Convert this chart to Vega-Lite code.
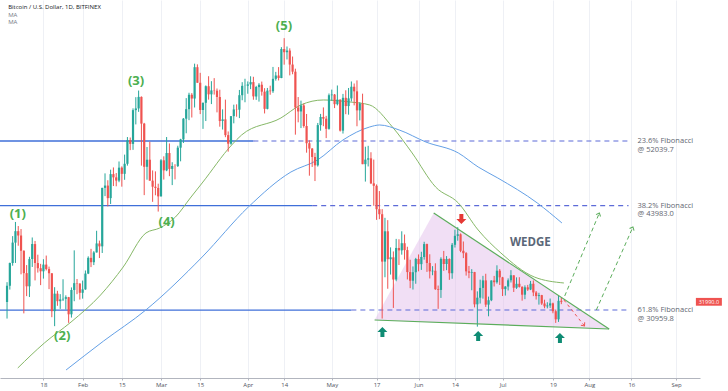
{
  "$schema": "https://vega.github.io/schema/vega-lite/v6.json",
  "width": 700,
  "height": 378,
  "autosize": {"type": "none"},
  "padding": {"left": 0, "top": 0, "right": 28, "bottom": 13},
  "background": "#ffffff",
  "config": {"view": {"stroke": null}, "font": "Open Sans"},
  "datasets": {
    "candles": [
      {"d":"2021-01-05","o":31971,"h":34437,"l":29900,"c":33992},
      {"d":"2021-01-06","o":33992,"h":36879,"l":33514,"c":36824},
      {"d":"2021-01-07","o":36824,"h":40180,"l":36491,"c":39371},
      {"d":"2021-01-08","o":39371,"h":41946,"l":36838,"c":40797},
      {"d":"2021-01-09","o":40797,"h":41436,"l":38980,"c":40254},
      {"d":"2021-01-10","o":40254,"h":41063,"l":35418,"c":38356},
      {"d":"2021-01-11","o":38356,"h":38400,"l":30549,"c":35566},
      {"d":"2021-01-12","o":35566,"h":36568,"l":32697,"c":33922},
      {"d":"2021-01-13","o":33922,"h":37599,"l":32584,"c":37316},
      {"d":"2021-01-14","o":37316,"h":40011,"l":36335,"c":39187},
      {"d":"2021-01-15","o":39187,"h":39577,"l":34659,"c":36825},
      {"d":"2021-01-16","o":36825,"h":37864,"l":35633,"c":36178},
      {"d":"2021-01-17","o":36178,"h":36722,"l":34069,"c":35792},
      {"d":"2021-01-18","o":35792,"h":37299,"l":34883,"c":36630},
      {"d":"2021-01-19","o":36630,"h":37755,"l":35900,"c":36069},
      {"d":"2021-01-20","o":36069,"h":36378,"l":33570,"c":35547},
      {"d":"2021-01-21","o":35547,"h":35553,"l":30071,"c":30825},
      {"d":"2021-01-22","o":30825,"h":33811,"l":28953,"c":33005},
      {"d":"2021-01-23","o":33005,"h":33360,"l":31493,"c":32067},
      {"d":"2021-01-24","o":32067,"h":32944,"l":31106,"c":32289},
      {"d":"2021-01-25","o":32289,"h":34802,"l":32087,"c":32366},
      {"d":"2021-01-26","o":32366,"h":32794,"l":31030,"c":32569},
      {"d":"2021-01-27","o":32569,"h":32600,"l":29367,"c":30432},
      {"d":"2021-01-28","o":30432,"h":33783,"l":30023,"c":33466},
      {"d":"2021-01-29","o":33466,"h":38406,"l":32064,"c":34317},
      {"d":"2021-01-30","o":34317,"h":34834,"l":32940,"c":34270},
      {"d":"2021-01-31","o":34270,"h":34288,"l":32270,"c":33114},
      {"d":"2021-02-01","o":33114,"h":34638,"l":32384,"c":33538},
      {"d":"2021-02-02","o":33538,"h":35896,"l":33489,"c":35510},
      {"d":"2021-02-03","o":35510,"h":37660,"l":35443,"c":37473},
      {"d":"2021-02-04","o":37473,"h":38592,"l":36317,"c":36926},
      {"d":"2021-02-05","o":36926,"h":38310,"l":36570,"c":38144},
      {"d":"2021-02-06","o":38144,"h":40846,"l":38138,"c":39266},
      {"d":"2021-02-07","o":39266,"h":39621,"l":37446,"c":38903},
      {"d":"2021-02-08","o":38903,"h":46203,"l":38076,"c":46196},
      {"d":"2021-02-09","o":46196,"h":48003,"l":45166,"c":46481},
      {"d":"2021-02-10","o":46481,"h":47145,"l":43881,"c":44918},
      {"d":"2021-02-11","o":44918,"h":48463,"l":44187,"c":47909},
      {"d":"2021-02-12","o":47909,"h":48745,"l":46425,"c":47504},
      {"d":"2021-02-13","o":47504,"h":48047,"l":46392,"c":47105},
      {"d":"2021-02-14","o":47105,"h":49487,"l":46900,"c":48717},
      {"d":"2021-02-15","o":48717,"h":48875,"l":46347,"c":47945},
      {"d":"2021-02-16","o":47945,"h":50341,"l":47201,"c":49199},
      {"d":"2021-02-17","o":49199,"h":52533,"l":48968,"c":52149},
      {"d":"2021-02-18","o":52149,"h":52474,"l":50901,"c":51679},
      {"d":"2021-02-19","o":51679,"h":56113,"l":50937,"c":55888},
      {"d":"2021-02-20","o":55888,"h":57505,"l":54108,"c":56099},
      {"d":"2021-02-21","o":56099,"h":58330,"l":55672,"c":57539},
      {"d":"2021-02-22","o":57539,"h":57600,"l":48967,"c":54207},
      {"d":"2021-02-23","o":54207,"h":54300,"l":45290,"c":48824},
      {"d":"2021-02-24","o":48824,"h":51290,"l":47213,"c":49705},
      {"d":"2021-02-25","o":49705,"h":51948,"l":47093,"c":47093},
      {"d":"2021-02-26","o":47093,"h":48370,"l":44454,"c":46339},
      {"d":"2021-02-27","o":46339,"h":48253,"l":45269,"c":46188},
      {"d":"2021-02-28","o":46188,"h":46716,"l":43241,"c":45137},
      {"d":"2021-03-01","o":45137,"h":49784,"l":45115,"c":49631},
      {"d":"2021-03-02","o":49631,"h":50127,"l":47228,"c":48378},
      {"d":"2021-03-03","o":48378,"h":52535,"l":48274,"c":50538},
      {"d":"2021-03-04","o":50538,"h":51735,"l":47656,"c":48561},
      {"d":"2021-03-05","o":48561,"h":49394,"l":46542,"c":48927},
      {"d":"2021-03-06","o":48927,"h":49147,"l":47257,"c":48912},
      {"d":"2021-03-07","o":48912,"h":51450,"l":48800,"c":51206},
      {"d":"2021-03-08","o":51206,"h":52314,"l":49506,"c":52246},
      {"d":"2021-03-09","o":52246,"h":54900,"l":51789,"c":54824},
      {"d":"2021-03-10","o":54824,"h":57387,"l":53005,"c":56008},
      {"d":"2021-03-11","o":56008,"h":58055,"l":54639,"c":57805},
      {"d":"2021-03-12","o":57805,"h":58011,"l":54968,"c":57332},
      {"d":"2021-03-13","o":57332,"h":61683,"l":56217,"c":61243},
      {"d":"2021-03-14","o":61243,"h":61597,"l":59302,"c":59302},
      {"d":"2021-03-15","o":59302,"h":60540,"l":55394,"c":55907},
      {"d":"2021-03-16","o":55907,"h":56833,"l":53555,"c":56804},
      {"d":"2021-03-17","o":56804,"h":58970,"l":54528,"c":58870},
      {"d":"2021-03-18","o":58870,"h":60116,"l":57197,"c":57858},
      {"d":"2021-03-19","o":57858,"h":59498,"l":56643,"c":58346},
      {"d":"2021-03-20","o":58346,"h":59878,"l":57824,"c":58313},
      {"d":"2021-03-21","o":58313,"h":58582,"l":55610,"c":57523},
      {"d":"2021-03-22","o":57523,"h":58431,"l":53824,"c":54529},
      {"d":"2021-03-23","o":54529,"h":55985,"l":53471,"c":54738},
      {"d":"2021-03-24","o":54738,"h":57200,"l":52515,"c":52774},
      {"d":"2021-03-25","o":52774,"h":53230,"l":50710,"c":51704},
      {"d":"2021-03-26","o":51704,"h":55137,"l":51579,"c":55137},
      {"d":"2021-03-27","o":55137,"h":56568,"l":54242,"c":55974},
      {"d":"2021-03-28","o":55974,"h":56610,"l":55071,"c":55947},
      {"d":"2021-03-29","o":55947,"h":58405,"l":54895,"c":57750},
      {"d":"2021-03-30","o":57750,"h":59374,"l":57124,"c":58918},
      {"d":"2021-03-31","o":58918,"h":59800,"l":56870,"c":58930},
      {"d":"2021-04-01","o":58930,"h":59469,"l":57932,"c":59095},
      {"d":"2021-04-02","o":59095,"h":60110,"l":58506,"c":59384},
      {"d":"2021-04-03","o":59384,"h":60045,"l":57183,"c":57603},
      {"d":"2021-04-04","o":57603,"h":58913,"l":57168,"c":58758},
      {"d":"2021-04-05","o":58758,"h":59253,"l":56950,"c":59057},
      {"d":"2021-04-06","o":59057,"h":59449,"l":57696,"c":58192},
      {"d":"2021-04-07","o":58192,"h":58627,"l":55473,"c":56048},
      {"d":"2021-04-08","o":56048,"h":58655,"l":55982,"c":58323},
      {"d":"2021-04-09","o":58323,"h":58937,"l":57807,"c":58245},
      {"d":"2021-04-10","o":58245,"h":61276,"l":58038,"c":59793},
      {"d":"2021-04-11","o":59793,"h":60659,"l":59567,"c":60204},
      {"d":"2021-04-12","o":60204,"h":61253,"l":59589,"c":59893},
      {"d":"2021-04-13","o":59893,"h":63742,"l":59869,"c":63503},
      {"d":"2021-04-14","o":63503,"h":64863,"l":61555,"c":63109},
      {"d":"2021-04-15","o":63109,"h":63821,"l":62208,"c":63314},
      {"d":"2021-04-16","o":63314,"h":63594,"l":60222,"c":61572},
      {"d":"2021-04-17","o":61572,"h":62572,"l":60361,"c":60683},
      {"d":"2021-04-18","o":60683,"h":61057,"l":52829,"c":56216},
      {"d":"2021-04-19","o":56216,"h":57520,"l":54368,"c":55724},
      {"d":"2021-04-20","o":55724,"h":57073,"l":53649,"c":56474},
      {"d":"2021-04-21","o":56474,"h":56709,"l":53695,"c":53906},
      {"d":"2021-04-22","o":53906,"h":55410,"l":50583,"c":51762},
      {"d":"2021-04-23","o":51762,"h":52130,"l":47714,"c":51093},
      {"d":"2021-04-24","o":51093,"h":51166,"l":48806,"c":50050},
      {"d":"2021-04-25","o":50050,"h":50563,"l":47045,"c":49004},
      {"d":"2021-04-26","o":49004,"h":54288,"l":48852,"c":54021},
      {"d":"2021-04-27","o":54021,"h":55416,"l":53320,"c":55033},
      {"d":"2021-04-28","o":55033,"h":56227,"l":53887,"c":54824},
      {"d":"2021-04-29","o":54824,"h":55173,"l":52400,"c":53555},
      {"d":"2021-04-30","o":53555,"h":57963,"l":53448,"c":57750},
      {"d":"2021-05-01","o":57750,"h":58448,"l":57052,"c":57828},
      {"d":"2021-05-02","o":57828,"h":57900,"l":56142,"c":56631},
      {"d":"2021-05-03","o":56631,"h":58963,"l":56478,"c":57200},
      {"d":"2021-05-04","o":57200,"h":57227,"l":53221,"c":53333},
      {"d":"2021-05-05","o":53333,"h":57911,"l":52969,"c":57424},
      {"d":"2021-05-06","o":57424,"h":58363,"l":55382,"c":56396},
      {"d":"2021-05-07","o":56396,"h":58650,"l":55321,"c":57356},
      {"d":"2021-05-08","o":57356,"h":59464,"l":56975,"c":58803},
      {"d":"2021-05-09","o":58803,"h":59210,"l":56482,"c":58232},
      {"d":"2021-05-10","o":58232,"h":59595,"l":53878,"c":55859},
      {"d":"2021-05-11","o":55859,"h":56872,"l":54608,"c":56704},
      {"d":"2021-05-12","o":56704,"h":57939,"l":49150,"c":49150},
      {"d":"2021-05-13","o":49150,"h":51330,"l":46980,"c":49716},
      {"d":"2021-05-14","o":49716,"h":51439,"l":48868,"c":49880},
      {"d":"2021-05-15","o":49880,"h":50639,"l":46665,"c":46760},
      {"d":"2021-05-16","o":46760,"h":49720,"l":43963,"c":46456},
      {"d":"2021-05-17","o":46456,"h":46624,"l":42207,"c":43537},
      {"d":"2021-05-18","o":43537,"h":45799,"l":42293,"c":42909},
      {"d":"2021-05-19","o":42909,"h":43547,"l":29900,"c":37002},
      {"d":"2021-05-20","o":37002,"h":42462,"l":35050,"c":40782},
      {"d":"2021-05-21","o":40782,"h":42172,"l":33616,"c":37304},
      {"d":"2021-05-22","o":37304,"h":38776,"l":35383,"c":37536},
      {"d":"2021-05-23","o":37536,"h":38271,"l":31227,"c":34770},
      {"d":"2021-05-24","o":34770,"h":39835,"l":34551,"c":38705},
      {"d":"2021-05-25","o":38705,"h":39791,"l":36581,"c":38402},
      {"d":"2021-05-26","o":38402,"h":40782,"l":37868,"c":39294},
      {"d":"2021-05-27","o":39294,"h":40379,"l":37247,"c":38436},
      {"d":"2021-05-28","o":38436,"h":38856,"l":34779,"c":35697},
      {"d":"2021-05-29","o":35697,"h":37234,"l":33693,"c":34616},
      {"d":"2021-05-30","o":34616,"h":36400,"l":33520,"c":35678},
      {"d":"2021-05-31","o":35678,"h":37468,"l":34241,"c":37333},
      {"d":"2021-06-01","o":37333,"h":37897,"l":35787,"c":36685},
      {"d":"2021-06-02","o":36685,"h":38231,"l":35966,"c":37575},
      {"d":"2021-06-03","o":37575,"h":39476,"l":37243,"c":39188},
      {"d":"2021-06-04","o":39188,"h":39242,"l":35717,"c":36825},
      {"d":"2021-06-05","o":36825,"h":37917,"l":34900,"c":35791},
      {"d":"2021-06-06","o":35791,"h":36436,"l":35304,"c":35862},
      {"d":"2021-06-07","o":35862,"h":36790,"l":33480,"c":33560},
      {"d":"2021-06-08","o":33560,"h":34017,"l":31115,"c":33472},
      {"d":"2021-06-09","o":33472,"h":37537,"l":32475,"c":37346},
      {"d":"2021-06-10","o":37346,"h":38334,"l":35847,"c":36702},
      {"d":"2021-06-11","o":36702,"h":37690,"l":35937,"c":37334},
      {"d":"2021-06-12","o":37334,"h":37405,"l":34728,"c":35552},
      {"d":"2021-06-13","o":35552,"h":39322,"l":34864,"c":39097},
      {"d":"2021-06-14","o":39097,"h":40978,"l":38757,"c":40218},
      {"d":"2021-06-15","o":40218,"h":41295,"l":39609,"c":40406},
      {"d":"2021-06-16","o":40406,"h":40516,"l":38176,"c":38347},
      {"d":"2021-06-17","o":38347,"h":39513,"l":37439,"c":38053},
      {"d":"2021-06-18","o":38053,"h":38187,"l":35255,"c":35787},
      {"d":"2021-06-19","o":35787,"h":36457,"l":34933,"c":35615},
      {"d":"2021-06-20","o":35615,"h":36059,"l":33432,"c":35698},
      {"d":"2021-06-21","o":35698,"h":35721,"l":31295,"c":31676},
      {"d":"2021-06-22","o":31676,"h":33292,"l":28893,"c":32505},
      {"d":"2021-06-23","o":32505,"h":34753,"l":31772,"c":33723},
      {"d":"2021-06-24","o":33723,"h":35228,"l":32385,"c":34662},
      {"d":"2021-06-25","o":34662,"h":35487,"l":31350,"c":31637},
      {"d":"2021-06-26","o":31637,"h":32637,"l":30184,"c":32186},
      {"d":"2021-06-27","o":32186,"h":34656,"l":32071,"c":34649},
      {"d":"2021-06-28","o":34649,"h":35219,"l":33902,"c":34434},
      {"d":"2021-06-29","o":34434,"h":36542,"l":34252,"c":35867},
      {"d":"2021-06-30","o":35867,"h":36074,"l":34086,"c":35040},
      {"d":"2021-07-01","o":35040,"h":35100,"l":32712,"c":33572},
      {"d":"2021-07-02","o":33572,"h":33939,"l":32770,"c":33897},
      {"d":"2021-07-03","o":33897,"h":34909,"l":33402,"c":34668},
      {"d":"2021-07-04","o":34668,"h":35937,"l":34396,"c":35287},
      {"d":"2021-07-05","o":35287,"h":35300,"l":33213,"c":33746},
      {"d":"2021-07-06","o":33746,"h":35038,"l":33599,"c":34235},
      {"d":"2021-07-07","o":34235,"h":35056,"l":33770,"c":33855},
      {"d":"2021-07-08","o":33855,"h":33929,"l":32133,"c":32877},
      {"d":"2021-07-09","o":32877,"h":34042,"l":32318,"c":33798},
      {"d":"2021-07-10","o":33798,"h":34101,"l":33347,"c":33520},
      {"d":"2021-07-11","o":33520,"h":34592,"l":33450,"c":34240},
      {"d":"2021-07-12","o":34240,"h":34654,"l":32697,"c":33155},
      {"d":"2021-07-13","o":33155,"h":33339,"l":32270,"c":32702},
      {"d":"2021-07-14","o":32702,"h":33115,"l":31639,"c":32822},
      {"d":"2021-07-15","o":32822,"h":32855,"l":31600,"c":31780},
      {"d":"2021-07-16","o":31780,"h":32249,"l":31179,"c":31421},
      {"d":"2021-07-17","o":31421,"h":31936,"l":31176,"c":31533},
      {"d":"2021-07-18","o":31533,"h":32398,"l":31226,"c":31796},
      {"d":"2021-07-19","o":31796,"h":31885,"l":30563,"c":30817},
      {"d":"2021-07-20","o":30817,"h":31032,"l":29360,"c":29807},
      {"d":"2021-07-21","o":29807,"h":32819,"l":29482,"c":32110},
      {"d":"2021-07-22","o":32110,"h":32500,"l":31700,"c":31990}
    ],
    "ma": [
      {"s":"ma50","d":"2021-01-08T20:00:00Z","p":23738},
      {"s":"ma50","d":"2021-01-18T08:00:00Z","p":26855},
      {"s":"ma50","d":"2021-01-27T21:00:00Z","p":29474},
      {"s":"ma50","d":"2021-02-07T10:00:00Z","p":32840},
      {"s":"ma50","d":"2021-02-15T12:00:00Z","p":36332},
      {"s":"ma50","d":"2021-02-23T15:00:00Z","p":40571},
      {"s":"ma50","d":"2021-02-28T13:00:00Z","p":41194},
      {"s":"ma50","d":"2021-03-06T04:00:00Z","p":42566},
      {"s":"ma50","d":"2021-03-11T11:00:00Z","p":44935},
      {"s":"ma50","d":"2021-03-15T17:00:00Z","p":46806},
      {"s":"ma50","d":"2021-03-26T06:00:00Z","p":51544},
      {"s":"ma50","d":"2021-03-29T19:00:00Z","p":52791},
      {"s":"ma50","d":"2021-04-12T20:00:00Z","p":54910},
      {"s":"ma50","d":"2021-04-19T22:00:00Z","p":56531},
      {"s":"ma50","d":"2021-04-28T00:00:00Z","p":57155},
      {"s":"ma50","d":"2021-05-07T12:00:00Z","p":56905},
      {"s":"ma50","d":"2021-05-14T13:00:00Z","p":56531},
      {"s":"ma50","d":"2021-05-22T16:00:00Z","p":53788},
      {"s":"ma50","d":"2021-05-29T17:00:00Z","p":50546},
      {"s":"ma50","d":"2021-06-07T02:00:00Z","p":46307},
      {"s":"ma50","d":"2021-06-15T05:00:00Z","p":44312},
      {"s":"ma50","d":"2021-06-22T07:00:00Z","p":40945},
      {"s":"ma50","d":"2021-06-30T10:00:00Z","p":38077},
      {"s":"ma50","d":"2021-07-12T08:00:00Z","p":35085},
      {"s":"ma50","d":"2021-07-22T22:00:00Z","p":34336},
      {"s":"ma100","d":"2021-01-26T02:00:00Z","p":23488},
      {"s":"ma100","d":"2021-02-08T12:00:00Z","p":27104},
      {"s":"ma100","d":"2021-02-23T14:00:00Z","p":30970},
      {"s":"ma100","d":"2021-03-15T17:00:00Z","p":37578},
      {"s":"ma100","d":"2021-04-01T05:00:00Z","p":43813},
      {"s":"ma100","d":"2021-04-16T10:00:00Z","p":48177},
      {"s":"ma100","d":"2021-04-25T22:00:00Z","p":49673},
      {"s":"ma100","d":"2021-05-05T00:00:00Z","p":52167},
      {"s":"ma100","d":"2021-05-14T13:00:00Z","p":53788},
      {"s":"ma100","d":"2021-05-18T02:00:00Z","p":54038},
      {"s":"ma100","d":"2021-05-25T02:00:00Z","p":53414},
      {"s":"ma100","d":"2021-06-03T14:00:00Z","p":51918},
      {"s":"ma100","d":"2021-06-15T05:00:00Z","p":50546},
      {"s":"ma100","d":"2021-06-22T07:00:00Z","p":48801},
      {"s":"ma100","d":"2021-06-29T07:00:00Z","p":47429},
      {"s":"ma100","d":"2021-07-13T10:00:00Z","p":44312},
      {"s":"ma100","d":"2021-07-22T05:00:00Z","p":41818}
    ],
    "wedgeArea": [
      {"d":"2021-05-16T07:00:00Z","p":29723,"p2":29723},
      {"d":"2021-06-06T10:00:00Z","p":43065,"p2":29440},
      {"d":"2021-08-08T02:00:00Z","p":28601,"p2":28601}
    ],
    "wedgeLines": [
      {"g":"lower","d":"2021-05-16T07:00:00Z","p":29723},
      {"g":"lower","d":"2021-08-08T02:00:00Z","p":28601},
      {"g":"upper","d":"2021-06-06T10:00:00Z","p":43065},
      {"g":"upper","d":"2021-08-08T02:00:00Z","p":28601}
    ],
    "solidLevels": [
      {"d":"2021-01-01","d2":"2021-04-03","p":52039.7},
      {"d":"2021-01-01","d2":"2021-04-24","p":43983.0},
      {"d":"2021-01-01","d2":"2021-05-08","p":30959.8}
    ],
    "fibLevels": [
      {"d":"2021-04-03","d2":"2021-08-15","p":52039.7,"t":"23.6% Fibonacci\n@ 52039.7"},
      {"d":"2021-04-24","d2":"2021-08-15","p":43983.0,"t":"38.2% Fibonacci\n@ 43983.0"},
      {"d":"2021-05-08","d2":"2021-08-15","p":30959.8,"t":"61.8% Fibonacci\n@ 30959.8"}
    ],
    "proj": [
      {"g":"down","d":"2021-07-22T22:00:00Z","p":32217},
      {"g":"down","d":"2021-07-30T07:00:00Z","p":28975},
      {"g":"up1","d":"2021-07-23T05:00:00Z","p":32716},
      {"g":"up1","d":"2021-08-04T14:00:00Z","p":43065},
      {"g":"up2","d":"2021-08-03T12:00:00Z","p":30970},
      {"g":"up2","d":"2021-08-16T14:00:00Z","p":41319}
    ],
    "heads": [
      {"g":"down","d":"2021-07-30T07:00:00Z","p":28975,"dir":141},
      {"g":"up1","d":"2021-08-04T14:00:00Z","p":43065,"dir":23},
      {"g":"up2","d":"2021-08-16T14:00:00Z","p":41319,"dir":24}
    ],
    "arrows": [
      {"k":"down","d":"2021-06-16T07:00:00Z","p":42317},
      {"k":"up","d":"2021-05-19T02:00:00Z","p":28227},
      {"k":"up","d":"2021-06-22T07:00:00Z","p":27728},
      {"k":"up","d":"2021-07-21T12:00:00Z","p":27478}
    ],
    "waves": [
      {"t":"(1)","d":"2021-01-08T20:00:00Z","p":42940},
      {"t":"(2)","d":"2021-01-24T17:00:00Z","p":27728},
      {"t":"(3)","d":"2021-02-20T02:00:00Z","p":59524},
      {"t":"(4)","d":"2021-03-03T00:00:00Z","p":41943},
      {"t":"(5)","d":"2021-04-13T22:00:00Z","p":66382}
    ],
    "header": [
      {"t":"Bitcoin / U.S. Dollar, 1D, BITFINEX","w":"bold","d":"2021-01-05T10:00:00Z","p":68751},
      {"t":"MA","w":"normal","d":"2021-01-05T10:00:00Z","p":67754},
      {"t":"MA","w":"normal","d":"2021-01-05T10:00:00Z","p":66818}
    ],
    "last": [
      {"d":"2021-09-12T17:00:00Z","p":31990,"t":"31990.0"}
    ]
  },
  "encoding": {
    "x": {
      "field": "d", "type": "temporal",
      "scale": {"type": "utc", "domain": [1609741728000, 1631037600000]},
      "axis": {
        "title": null,
        "values": [1610928000000, 1612137600000, 1613347200000, 1614556800000, 1615766400000, 1617235200000, 1618358400000, 1619827200000, 1621209600000, 1622505600000, 1623628800000, 1625097600000, 1626652800000, 1627776000000, 1629072000000, 1630454400000],
        "labelExpr": "utcFormat(datum.value, '%d') == '01' ? utcFormat(datum.value, '%b') : utcFormat(datum.value, '%-d')",
        "labelFontSize": 6, "labelColor": "#50535e", "labelPadding": 1,
        "labelFlush": false, "labelOverlap": false,
        "grid": true, "gridColor": "#eef0f5",
        "domainColor": "#b2b5be", "tickColor": "#b2b5be", "tickSize": 2
      }
    },
    "y": {
      "field": "p", "type": "quantitative",
      "scale": {"domain": [22490, 69620], "zero": false, "nice": false},
      "axis": {
        "orient": "right",
        "values": [24000,26000,28000,30000,32000,34000,36000,38000,40000,42000,44000,46000,48000,50000,52000,54000,56000,58000,60000,62000,64000,66000,68000],
        "format": ".1f",
        "labelFontSize": 5.5, "labelColor": "#50535e", "labelPadding": 2,
        "labelFlush": false, "labelOverlap": false,
        "grid": true, "gridColor": "#eef0f5",
        "domainColor": "#b2b5be", "tickColor": "#b2b5be", "tickSize": 3,
        "title": "USD", "titleAngle": 0, "titleX": 13, "titleY": 6,
        "titleAlign": "center", "titleBaseline": "middle",
        "titleFontSize": 5.5, "titleFontWeight": "normal", "titleColor": "#50535e"
      }
    }
  },
  "layer": [
    {
      "data": {"name": "wedgeArea"},
      "mark": {"type": "area", "color": "#e1b7e8", "opacity": 0.45},
      "encoding": {"y2": {"field": "p2"}}
    },
    {
      "data": {"name": "solidLevels"},
      "mark": {"type": "rule", "color": "#3f6fd9", "strokeWidth": 1.3, "clip": true},
      "encoding": {"x2": {"field": "d2"}}
    },
    {
      "data": {"name": "fibLevels"},
      "mark": {"type": "rule", "color": "#5d6bd8", "strokeWidth": 1.1, "strokeDash": [5, 4]},
      "encoding": {"x2": {"field": "d2"}}
    },
    {
      "data": {"name": "ma"},
      "mark": {"type": "line", "strokeWidth": 1, "interpolate": "monotone", "clip": true},
      "encoding": {
        "color": {"field": "s", "type": "nominal", "scale": {"domain": ["ma50", "ma100"], "range": ["#86b867", "#64a0e6"]}, "legend": null}
      }
    },
    {
      "data": {"name": "candles"},
      "mark": {"type": "rule", "strokeWidth": 1},
      "encoding": {
        "y": {"field": "l", "type": "quantitative", "scale": {"domain": [22490, 69620], "zero": false, "nice": false}, "axis": null},
        "y2": {"field": "h"},
        "color": {"condition": {"test": "datum.c >= datum.o", "value": "#26a69a"}, "value": "#ef5350"}
      }
    },
    {
      "data": {"name": "candles"},
      "mark": {"type": "bar", "size": 2.2},
      "encoding": {
        "y": {"field": "o", "type": "quantitative", "scale": {"domain": [22490, 69620], "zero": false, "nice": false}, "axis": null},
        "y2": {"field": "c"},
        "color": {"condition": {"test": "datum.c >= datum.o", "value": "#26a69a"}, "value": "#ef5350"}
      }
    },
    {
      "data": {"name": "wedgeLines"},
      "mark": {"type": "line", "color": "#5cad5c", "strokeWidth": 1.2},
      "encoding": {"detail": {"field": "g"}}
    },
    {
      "data": {"name": "proj"},
      "transform": [{"filter": "datum.g == 'down'"}],
      "mark": {"type": "line", "color": "#ef5350", "strokeWidth": 1, "strokeDash": [3, 3]},
      "encoding": {"detail": {"field": "g"}}
    },
    {
      "data": {"name": "proj"},
      "transform": [{"filter": "datum.g != 'down'"}],
      "mark": {"type": "line", "color": "#5cad5c", "strokeWidth": 1, "strokeDash": [4, 3]},
      "encoding": {"detail": {"field": "g"}}
    },
    {
      "data": {"name": "heads"},
      "mark": {"type": "point", "shape": "M-0.7,0.8L0,0L0.7,0.8", "filled": false, "size": 49, "strokeWidth": 1, "opacity": 1},
      "encoding": {
        "angle": {"field": "dir", "type": "quantitative", "scale": null},
        "color": {"condition": {"test": "datum.g == 'down'", "value": "#ef5350"}, "value": "#5cad5c"}
      }
    },
    {
      "data": {"name": "arrows"},
      "transform": [{"filter": "datum.k == 'up'"}],
      "mark": {"type": "point", "shape": "M0,-1L1,0L0.4,0L0.4,1L-0.4,1L-0.4,0L-1,0Z", "filled": true, "size": 100, "color": "#0f8c74", "opacity": 1}
    },
    {
      "data": {"name": "arrows"},
      "transform": [{"filter": "datum.k == 'down'"}],
      "mark": {"type": "point", "shape": "M0,1L1,0L0.4,0L0.4,-1L-0.4,-1L-0.4,0L-1,0Z", "filled": true, "size": 100, "color": "#e53935", "opacity": 1}
    },
    {
      "data": {"name": "waves"},
      "mark": {"type": "text", "fontSize": 13, "fontWeight": "bold", "color": "#4caf50", "align": "center", "baseline": "middle"},
      "encoding": {"text": {"field": "t"}}
    },
    {
      "data": {"values": [{"t": "WEDGE", "d": "2021-07-10T22:00:00Z", "p": 39324}]},
      "mark": {"type": "text", "fontSize": 11.5, "fontWeight": "bold", "color": "#5b6778", "align": "center", "baseline": "middle"},
      "encoding": {"text": {"field": "t"}}
    },
    {
      "data": {"name": "fibLevels"},
      "mark": {"type": "text", "fontSize": 7.5, "color": "#5f6670", "align": "left", "baseline": "middle", "lineBreak": "\n", "lineHeight": 8.5, "dx": 9},
      "encoding": {"x": {"field": "d2", "type": "temporal"}, "text": {"field": "t"}}
    },
    {
      "data": {"name": "header"},
      "mark": {"type": "text", "fontSize": 6, "color": "#131722", "align": "left", "baseline": "middle"},
      "encoding": {
        "text": {"field": "t"},
        "color": {"condition": {"test": "datum.w == 'bold'", "value": "#131722"}, "value": "#787b86"},
        "fontWeight": {"field": "w", "type": "nominal", "scale": null, "legend": null}
      }
    },
    {
      "data": {"name": "last"},
      "mark": {"type": "point", "shape": "M-1,-0.3L1,-0.3L1,0.3L-1,0.3Z", "filled": true, "size": 676, "color": "#ef5350", "opacity": 1}
    },
    {
      "data": {"name": "last"},
      "mark": {"type": "text", "fontSize": 5.5, "color": "#ffffff", "align": "center", "baseline": "middle"},
      "encoding": {"text": {"field": "t"}}
    }
  ]
}
